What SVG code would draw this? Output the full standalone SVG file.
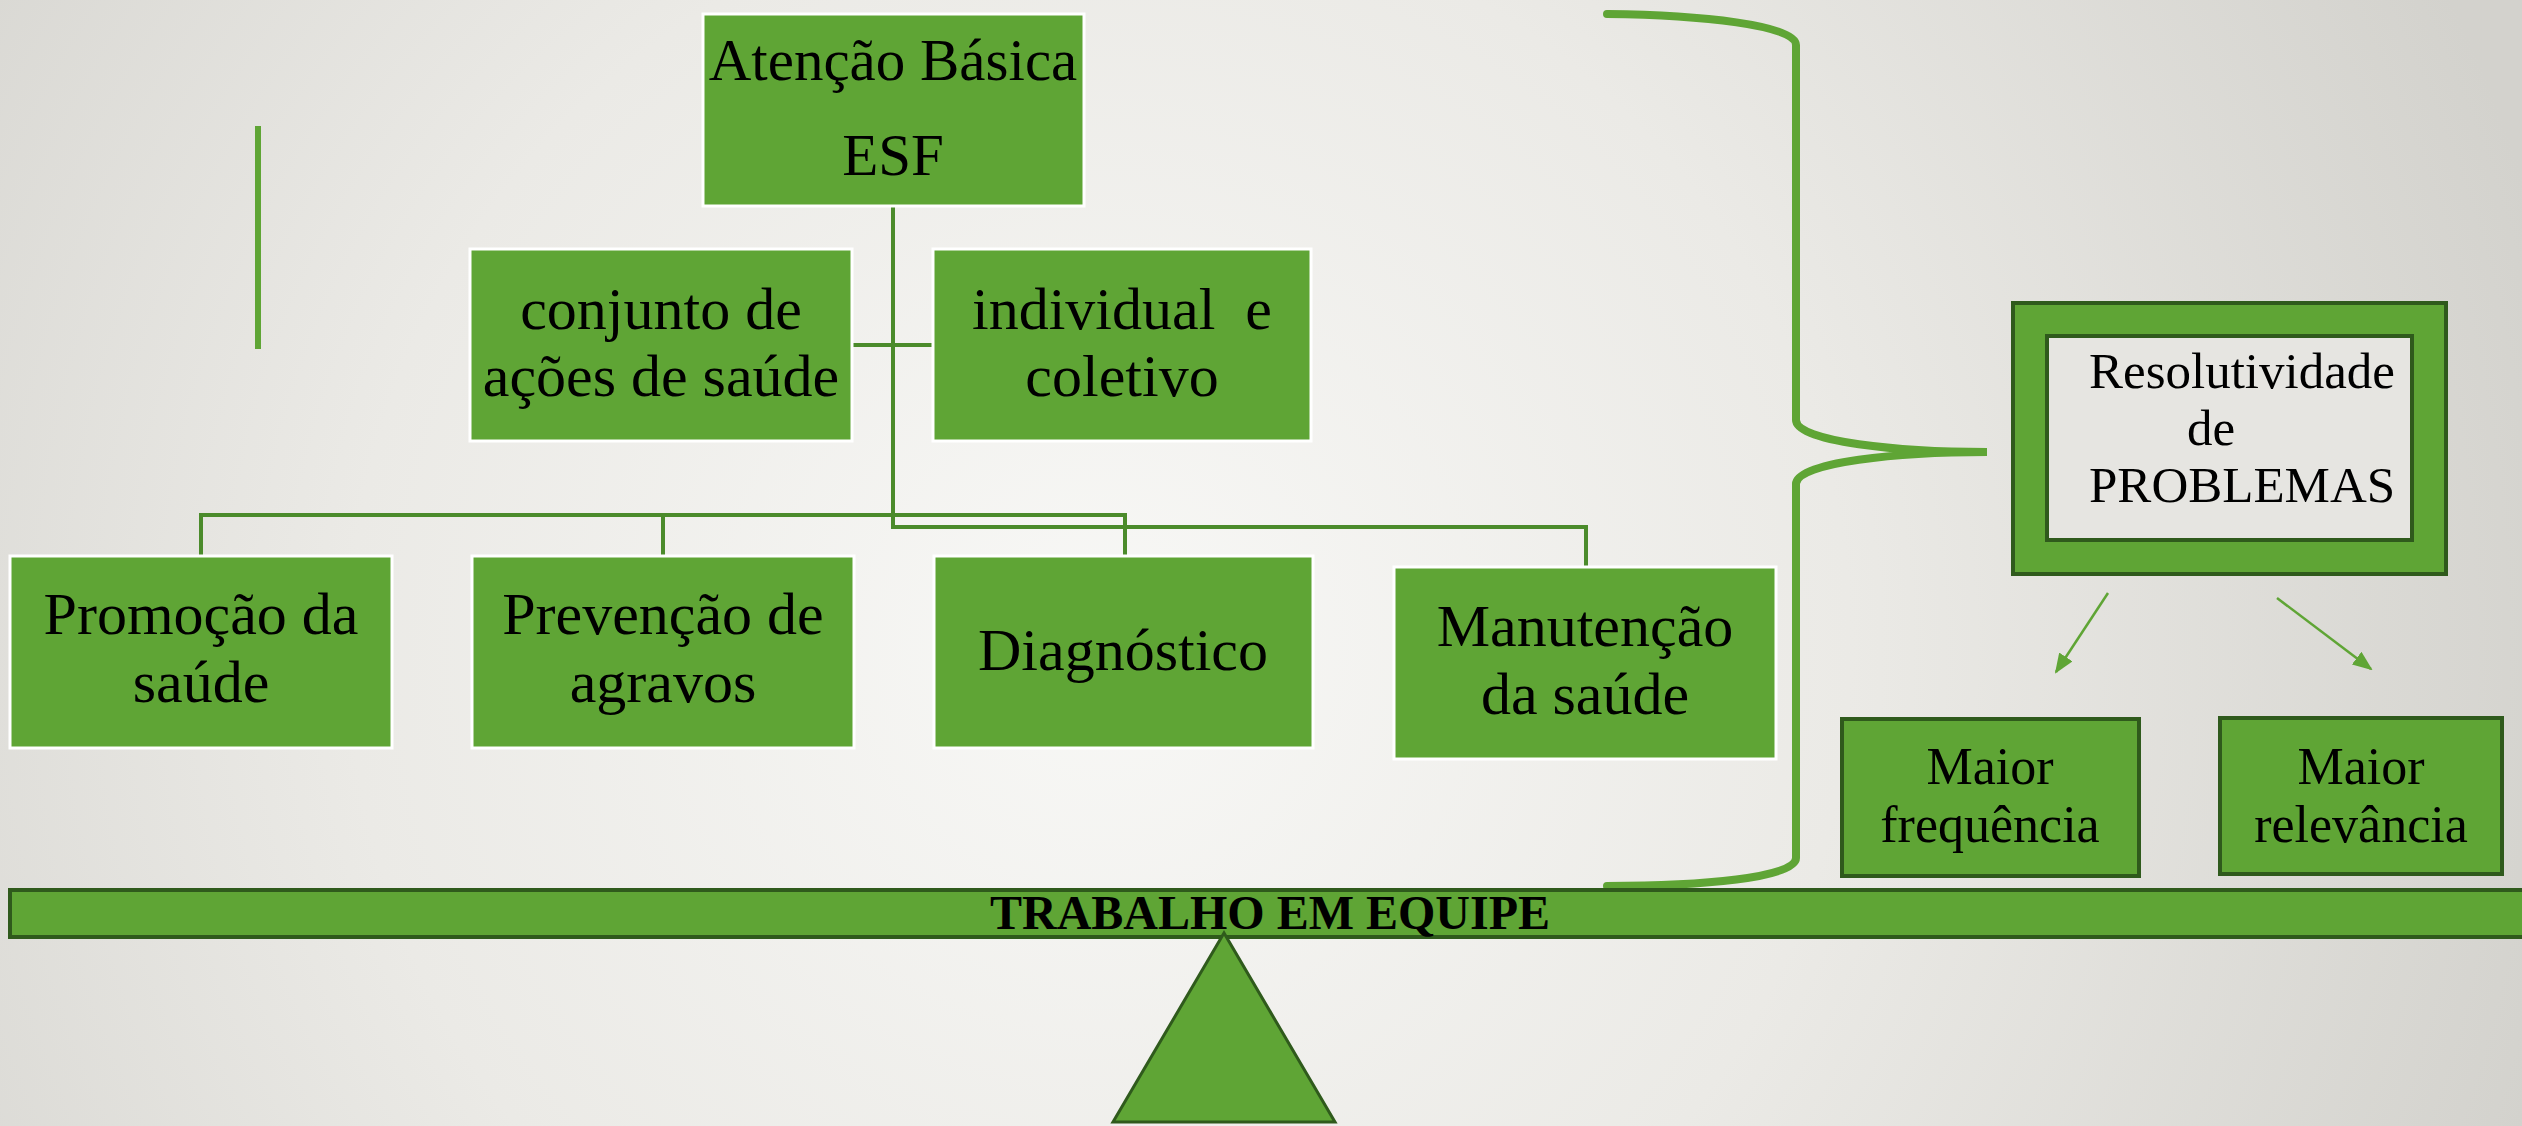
<svg xmlns="http://www.w3.org/2000/svg" width="2522" height="1126" viewBox="0 0 2522 1126">
<defs>
<radialGradient id="bg" gradientUnits="userSpaceOnUse" cx="1100" cy="650" r="1500">
<stop offset="0" stop-color="#f8f8f6"/>
<stop offset="0.5" stop-color="#ebeae6"/>
<stop offset="1" stop-color="#d3d2cd"/>
</radialGradient>
<marker id="arr" viewBox="0 0 20 16" refX="18" refY="8" markerWidth="20" markerHeight="16" markerUnits="userSpaceOnUse" orient="auto">
<path d="M0,0 L20,8 L0,16 z" fill="#5fa535"/>
</marker>
<style>
.box{fill:#5fa535;stroke:#ffffff;stroke-width:3}
.dbox{fill:#5fa535;stroke:#2f5a1c;stroke-width:4}
.conn{fill:none;stroke:#4b8b2b;stroke-width:4}
.t{font-family:"Liberation Serif",serif;fill:#000;text-anchor:middle}
.s{text-anchor:start}
.t60{font-size:60px}
.t48{font-size:51px}
.t50{font-size:52px}
</style>
</defs>
<rect x="0" y="0" width="2522" height="1126" fill="url(#bg)"/>
<line x1="258" y1="126" x2="258" y2="349" stroke="#5fa535" stroke-width="6"/>

<g id="connectors">
<path class="conn" d="M893,206 V527 H1586 V566"/>
<path class="conn" d="M852,345 H933"/>
<path class="conn" d="M201,555 V515 H1125 V555"/>
<path class="conn" d="M663,515 V555"/>
<path d="M1607,14 C1700,15 1796,25 1796,45 L1796,420 C1796,442 1900,452 1987,452 C1900,452 1796,462 1796,484 L1796,858 C1796,878 1700,886 1607,886" fill="none" stroke="#5fa535" stroke-width="8" stroke-linecap="round"/>
<line x1="2108" y1="593" x2="2056" y2="672" stroke="#5fa535" stroke-width="2.5" marker-end="url(#arr)"/>
<line x1="2277" y1="598" x2="2371" y2="669" stroke="#5fa535" stroke-width="2.5" marker-end="url(#arr)"/>
</g>

<g id="atencao">
<rect class="box" x="703" y="14" width="381" height="192"/>
<text class="t" x="893" y="80" font-size="59">Atenção Básica</text>
<text class="t" x="893" y="175" font-size="59">ESF</text>
</g>
<g id="conjunto">
<rect class="box" x="470" y="249" width="382" height="192"/>
<text class="t t60" x="661" y="329">conjunto de</text>
<text class="t t60" x="661" y="396">ações de saúde</text>
</g>
<g id="individual">
<rect class="box" x="933" y="249" width="378" height="192"/>
<text class="t t60" x="1122" y="329" xml:space="preserve">individual  e</text>
<text class="t t60" x="1122" y="396">coletivo</text>
</g>
<g id="promocao">
<rect class="box" x="10" y="556" width="382" height="192"/>
<text class="t t60" x="201" y="634">Promoção da</text>
<text class="t t60" x="201" y="702">saúde</text>
</g>
<g id="prevencao">
<rect class="box" x="472" y="556" width="382" height="192"/>
<text class="t t60" x="663" y="634">Prevenção de</text>
<text class="t t60" x="663" y="702">agravos</text>
</g>
<g id="diagnostico">
<rect class="box" x="934" y="556" width="379" height="192"/>
<text class="t t60" x="1123" y="670">Diagnóstico</text>
</g>
<g id="manutencao">
<rect class="box" x="1394" y="567" width="382" height="192"/>
<text class="t t60" x="1585" y="646">Manutenção</text>
<text class="t t60" x="1585" y="714">da saúde</text>
</g>
<g id="resolutividade">
<rect class="dbox" x="2013" y="303" width="433" height="271"/>
<rect x="2047" y="336" width="365" height="204" fill="#e6e5e1" stroke="#2f5a1c" stroke-width="4"/>
<text class="t s t48" x="2089" y="388">Resolutividade</text>
<text class="t s t48" x="2187" y="445">de</text>
<text class="t s t48" x="2089" y="502">PROBLEMAS</text>
</g>
<g id="frequencia">
<rect class="dbox" x="1842" y="719" width="297" height="157"/>
<text class="t t50" x="1990" y="784">Maior</text>
<text class="t t50" x="1990" y="842">frequência</text>
</g>
<g id="relevancia">
<rect class="dbox" x="2220" y="718" width="282" height="156"/>
<text class="t t50" x="2361" y="784">Maior</text>
<text class="t t50" x="2361" y="842">relevância</text>
</g>
<g id="trabalho">
<rect class="dbox" x="10" y="890" width="2530" height="47"/>
<text class="t" x="1270" y="929" font-size="48" font-weight="bold">TRABALHO EM EQUIPE</text>
</g>
<g id="fulcrum">
<polygon points="1224,933 1113,1122 1335,1122" fill="#5fa535" stroke="#2f5a1c" stroke-width="3"/>
</g>
</svg>
